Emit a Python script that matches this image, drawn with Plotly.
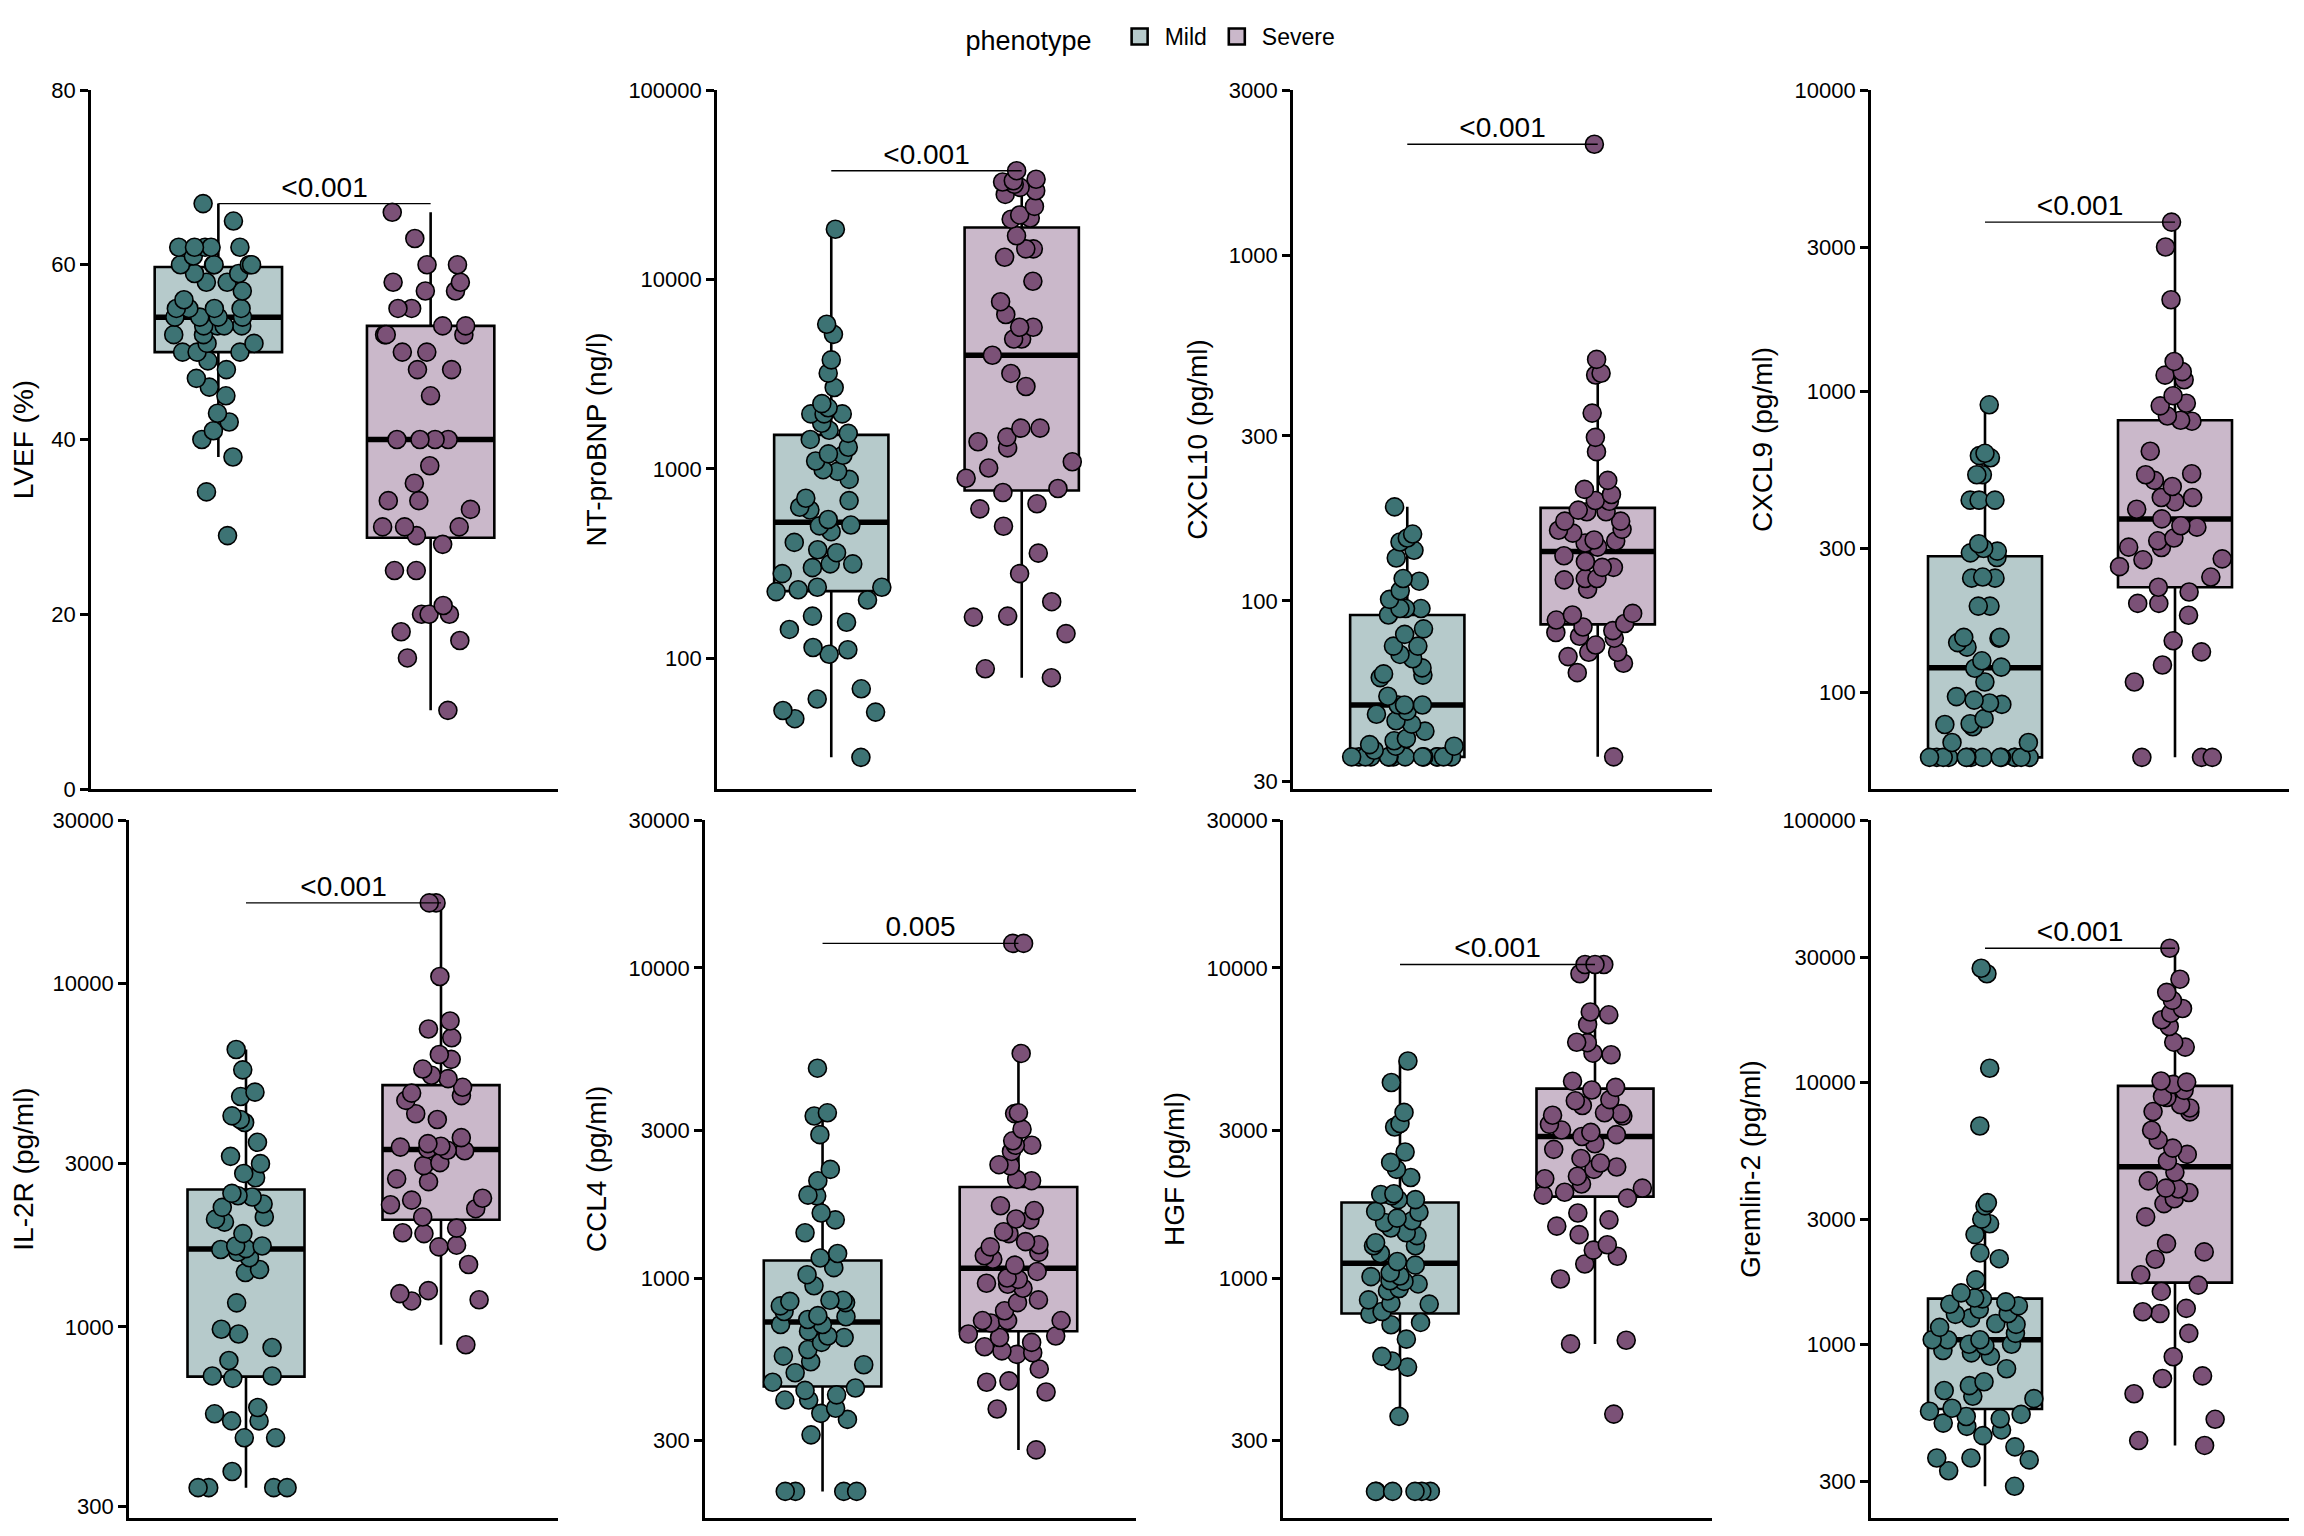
import numpy as np
import plotly.graph_objects as go

# ---------------- data ----------------
groups = ["Mild", "Severe"]
group_pos = [1, 2]

lvef_mild = [67, 65, 62, 62, 62, 62, 60, 60, 60, 60, 59, 59, 58, 57, 55, 55, 55, 55,
             54, 54, 54, 53, 53, 53, 52, 52, 51, 50, 50, 49, 48, 47, 46, 45, 43, 42,
             38, 41, 40, 34, 29, 50, 51, 53, 56, 58, 60, 61, 62, 54]
lvef_severe = [66, 63, 60, 60, 58, 58, 57, 57, 55, 55, 53, 53, 52, 52, 52, 50, 50, 48,
               48, 45, 40, 40, 40, 40, 37, 35, 33, 33, 32, 30, 30, 28, 30, 29, 25, 25,
               20, 20, 20, 21, 18, 17, 15, 9]

ntprobnp_mild = [18400, 5800, 5130, 3760, 3200, 2690, 2210, 2100, 1950, 1950, 1950, 1740,
                 1430, 1540, 1200, 1180, 970, 990, 880, 680, 627, 607, 505, 466, 409, 374,
                 361, 315, 315, 301, 280, 237, 237, 225, 203, 167, 155, 142, 114, 111, 105,
                 69, 61, 53, 52, 48, 30, 230, 500, 540, 700, 1100, 1300, 1600]
ntprobnp_severe = [37500, 32700, 31800, 33800, 33200, 30600, 28100, 29400, 24300, 21100,
                   21900, 20800, 17000, 14500, 14500, 13100, 9780, 7630, 6530, 5590, 5590,
                   4850, 4850, 3980, 3190, 2720, 1640, 1640, 1390, 1470, 1290, 1090, 1010,
                   892, 788, 750, 654, 615, 498, 359, 280, 199, 165, 167, 135, 88, 79]

cxcl10_mild = [187, 156, 152, 148, 140, 133, 116, 114, 107, 101, 95, 95, 95, 91, 83, 80,
               74, 74, 70, 68, 64, 61.5, 61, 60, 53, 50, 50, 50, 48, 47, 45, 44, 42, 40,
               39.4, 38.4, 38, 38, 37, 35.4, 35.4, 35.4, 35.4, 35.4, 35.4, 35.4, 35.4,
               35.4, 35.4, 35.4, 35.4, 35.4, 35.4]
cxcl10_severe = [2090, 499, 455, 450, 349, 297, 270, 223, 210, 203, 194, 181, 183, 181,
                 170, 161, 157, 149, 143, 147, 125, 125, 115, 116, 116, 108, 92, 91, 86,
                 84, 81, 74.5, 71, 71, 69, 66, 62, 35.4, 130, 135, 150, 160, 170, 195,
                 82, 79, 88, 78]

cxcl9_mild = [900, 621, 610, 600, 527, 527, 434, 434, 434, 311, 294, 290, 239, 239, 241,
              193, 193, 152, 152, 151, 146, 141, 127, 121, 120, 108, 96.6, 94, 92, 91,
              81.6, 78.5, 76.7, 78, 68, 68, 280, 300, 60.7, 60.7, 60.7, 60.7, 60.7, 60.7,
              60.7, 60.7, 60.7, 60.7, 60.7, 60.7, 60.7, 60.7]
cxcl9_severe = [3640, 3010, 2010, 1254, 1129, 1160, 1090, 965, 893, 911, 826, 794, 800,
                631, 531, 527, 505, 482, 443, 443, 405, 429, 376, 353, 357, 325, 318, 302,
                303, 275, 261, 277, 241, 223, 215, 197, 197, 180, 148, 136, 123, 108,
                60.7, 60.7, 60.7]

il2r_mild = [6430, 5610, 4830, 4690, 4120, 3940, 4020, 3450, 3140, 2990, 2800, 2720, 2450,
             2410, 2390, 2280, 2230, 2090, 2060, 2020, 1870, 1720, 1690, 1720, 1650, 1680,
             1590, 1440, 1470, 1175, 953, 984, 871, 798, 719, 708, 719, 558, 532, 582,
             475, 475, 379, 340, 340, 340, 340, 532]
il2r_severe = [17200, 17200, 10500, 7790, 7380, 6960, 6220, 6020, 5640, 5410, 5290, 4990,
               4800, 4720, 4570, 4180, 4020, 3560, 3420, 3340, 3300, 3260, 3270, 3360,
               3010, 2950, 2700, 2650, 2370, 2340, 2270, 2210, 2090, 1940, 1870, 1880,
               1730, 1710, 1520, 1275, 1200, 1250, 1190, 887]

ccl4_mild = [4750, 3410, 3330, 2900, 2240, 2060, 1850, 1840, 1620, 1540, 1400, 1200, 1160,
             1080, 1025, 944, 833, 848, 841, 848, 813, 750, 756, 735, 708, 674, 708, 643,
             650, 588, 537, 525, 495, 461, 434, 442, 404, 404, 380, 366, 350, 312, 205,
             205, 205, 205, 420, 560, 620, 780]
ccl4_severe = [12000, 12000, 5300, 3410, 3390, 3020, 2680, 2680, 2770, 2560, 2320, 2300,
               2080, 2060, 1710, 1650, 1550, 1540, 1390, 1410, 1310, 1280, 1260, 1180,
               1150, 1210, 927, 962, 955, 990, 833, 784, 729, 729, 716, 729, 643, 582,
               567, 574, 509, 466, 461, 429, 378, 279, 600, 650, 620, 660, 850, 1000,
               1050, 1100]

hgf_mild = [5010, 4270, 3420, 3070, 3150, 2550, 2360, 2240, 2110, 1870, 1840, 1860, 1790,
            1790, 1640, 1630, 1560, 1530, 1510, 1400, 1370, 1300, 1270, 1270, 1130, 1100,
            1040, 1010, 1015, 957, 975, 980, 925, 908, 824, 829, 764, 719, 707, 635, 559,
            540, 516, 358, 205, 205, 205, 205, 205, 205, 780, 850, 1200, 1450]
hgf_severe = [10260, 10260, 10260, 9580, 7210, 7060, 6570, 5760, 5740, 5310, 5250, 4310,
              4120, 4040, 3600, 3730, 3760, 3390, 3350, 3330, 3410, 3130, 2860, 2710,
              2430, 2350, 2280, 2240, 2130, 2090, 2010, 1810, 1890, 1620, 1540, 1470,
              1380, 1280, 1230, 1175, 1110, 993, 613, 630, 364, 1850, 1950, 2950, 2600,
              2900, 3000]

gremlin2_mild = [27200, 25900, 11300, 6800, 3370, 3470, 3000, 2880, 2620, 2230, 2120, 1760,
                 1570, 1500, 1490, 1420, 1360, 1260, 1310, 1190, 1160, 1040, 1040, 1040,
                 987, 927, 946, 806, 719, 695, 666, 633, 620, 570, 486, 471, 448, 406, 368,
                 368, 362, 329, 287, 500, 520, 540, 555, 530, 900, 1000, 1000, 1100, 1200,
                 1300, 1400, 1450]
gremlin2_severe = [32400, 24700, 22000, 20500, 18300, 19100, 17300, 16300, 14200, 13600,
                   10100, 9300, 8730, 8810, 8200, 7970, 7700, 7720, 6550, 6020, 5600, 5300,
                   4530, 4200, 3940, 3910, 3790, 3590, 3440, 3060, 2250, 2420, 2110, 1840,
                   1680, 1590, 1370, 1310, 1330, 1100, 896, 757, 740, 647, 517, 429, 411,
                   5000, 10000, 9800]

axis_titles = ["LVEF (%)", "NT-proBNP (ng/l)", "CXCL10 (pg/ml)", "CXCL9 (pg/ml)",
               "IL-2R (pg/ml)", "CCL4 (pg/ml)", "HGF (pg/ml)", "Gremlin-2 (pg/ml)"]
p_labels = ["<0.001", "<0.001", "<0.001", "<0.001", "<0.001", "0.005", "<0.001", "<0.001"]

ticks_lvef = [0, 20, 40, 60, 80]
ticks_ntprobnp = [100, 1000, 10000, 100000]
ticks_cxcl10 = [30, 100, 300, 1000, 3000]
ticks_cxcl9 = [100, 300, 1000, 3000, 10000]
ticks_il2r = [300, 1000, 3000, 10000, 30000]
ticks_ccl4 = [300, 1000, 3000, 10000, 30000]
ticks_hgf = [300, 1000, 3000, 10000, 30000]
ticks_gremlin2 = [300, 1000, 3000, 10000, 30000, 100000]

# ---------------- styles / layout constants ----------------
PAGE_OFFSET = 8                     # default body margin of the html page
W, H = 2304 - 2 * PAGE_OFFSET, 1536 - 2 * PAGE_OFFSET
FONT = "Liberation Sans, Arial, Helvetica, sans-serif"
point_colors = ["#3d7374", "#7b5177"]
box_fills = ["#b6cacb", "#cab8ca"]
BOX_W = 0.6

panels = [
    # data mild, data severe, log?, y-range (axis units), ticks
    (lvef_mild, lvef_severe, False, [0, 80], ticks_lvef),
    (ntprobnp_mild, ntprobnp_severe, True, [1.31, 5.0], ticks_ntprobnp),
    (cxcl10_mild, cxcl10_severe, True, [1.456, np.log10(3000)], ticks_cxcl10),
    (cxcl9_mild, cxcl9_severe, True, [1.678, 4.0], ticks_cxcl9),
    (il2r_mild, il2r_severe, True, [2.443, np.log10(30000)], ticks_il2r),
    (ccl4_mild, ccl4_severe, True, [2.226, np.log10(30000)], ticks_ccl4),
    (hgf_mild, hgf_severe, True, [2.226, np.log10(30000)], ticks_hgf),
    (gremlin2_mild, gremlin2_severe, True, [2.337, 5.0], ticks_gremlin2),
]

# screen-pixel boxes of the panels (left, right, top, bottom)
x_px = [(91, 558), (717, 1136), (1293, 1712), (1871, 2289),
        (129, 558), (705, 1136), (1283, 1712), (1871, 2289)]
y_px = [(90, 789)] * 4 + [(820, 1518)] * 4


def fx(px):
    return (px - PAGE_OFFSET) / W


def fy(px):
    return 1 - (px - PAGE_OFFSET) / H


def box_stats(vals, log):
    v = np.log10(np.asarray(vals, float)) if log else np.asarray(vals, float)
    q1, med, q3 = np.percentile(v, [25, 50, 75])
    iqr = q3 - q1
    lo = v[v >= q1 - 1.5 * iqr].min()
    hi = v[v <= q3 + 1.5 * iqr].max()
    back = (lambda a: float(10 ** a)) if log else (lambda a: float(a))
    return [back(q1), back(med), back(q3), back(lo), back(hi)]


fig = go.Figure()
layout = dict(
    width=W, height=H,
    margin=dict(l=0, r=0, t=0, b=0, autoexpand=False),
    paper_bgcolor="white", plot_bgcolor="white",
    font=dict(family=FONT, color="black", size=22),
    boxmode="overlay",
    showlegend=True,
    legend=dict(
        orientation="h", x=fx(1152), xanchor="center", y=fy(38), yanchor="middle",
        title=dict(text="phenotype  ", font=dict(size=27), side="left"),
        font=dict(size=23), bgcolor="rgba(0,0,0,0)", itemwidth=40,
        itemsizing="trace",
    ),
)

# legend keys
for g in range(2):
    fig.add_trace(go.Scatter(
        x=[None], y=[None], mode="markers", name=groups[g], legendgroup=groups[g],
        marker=dict(symbol="square", size=27, color=box_fills[g],
                    line=dict(color="black", width=2.6)),
        showlegend=True, hoverinfo="skip",
    ))

for k, (d_mild, d_sev, is_log, yr, ticks) in enumerate(panels):
    idx = "" if k == 0 else str(k + 1)
    xa, ya = "x" + idx, "y" + idx
    data = [d_mild, d_sev]

    for g in range(2):
        q1, med, q3, lo, hi = box_stats(data[g], is_log)
        pos = group_pos[g]
        # box with whiskers
        fig.add_trace(go.Box(
            x=[pos], q1=[q1], median=[med], q3=[q3], lowerfence=[lo], upperfence=[hi],
            width=BOX_W, whiskerwidth=0, boxpoints=False,
            fillcolor=box_fills[g], line=dict(color="black", width=2.6),
            name=groups[g], legendgroup=groups[g], showlegend=False,
            xaxis=xa, yaxis=ya, hoverinfo="skip",
        ))
        # thick median bar
        fig.add_trace(go.Box(
            x=[pos], q1=[med], median=[med], q3=[med], lowerfence=[med], upperfence=[med],
            width=BOX_W, whiskerwidth=0, boxpoints=False,
            fillcolor="rgba(0,0,0,0)", line=dict(color="black", width=5.5),
            legendgroup=groups[g], showlegend=False,
            xaxis=xa, yaxis=ya, hoverinfo="skip",
        ))
        # jittered points
        fig.add_trace(go.Box(
            x=[pos] * len(data[g]), y=data[g],
            width=BOX_W, boxpoints="all", jitter=1.0, pointpos=0,
            fillcolor="rgba(0,0,0,0)", line=dict(color="rgba(0,0,0,0)", width=0),
            marker=dict(color=point_colors[g], size=18,
                        line=dict(color="black", width=1.6)),
            name=groups[g], legendgroup=groups[g], showlegend=False,
            xaxis=xa, yaxis=ya, hoverinfo="skip",
        ))

    # significance bracket at the panel maximum
    top = float(max(max(d_mild), max(d_sev)))
    fig.add_trace(go.Scatter(
        x=group_pos, y=[top, top], mode="lines",
        line=dict(color="black", width=1.4), showlegend=False,
        xaxis=xa, yaxis=ya, hoverinfo="skip",
    ))
    fig.add_trace(go.Scatter(
        x=[float(np.mean(group_pos))], y=[top], mode="text", text=[p_labels[k]],
        textposition="top center", textfont=dict(size=28, color="black", family=FONT),
        showlegend=False, xaxis=xa, yaxis=ya, hoverinfo="skip", cliponaxis=False,
    ))

    l, r = x_px[k]
    t, b = y_px[k]
    layout["xaxis" + idx] = dict(
        domain=[fx(l), fx(r)], anchor=ya, range=[0.4, 2.6], automargin=False,
        showline=True, linecolor="black", linewidth=2.6,
        showticklabels=False, ticks="", showgrid=False, zeroline=False,
    )
    layout["yaxis" + idx] = dict(
        domain=[fy(b), fy(t)], anchor=xa, automargin=False,
        type="log" if is_log else "linear", range=yr,
        tickvals=ticks, ticktext=[str(v) for v in ticks],
        showline=True, linecolor="black", linewidth=2.6,
        ticks="outside", ticklen=8, tickwidth=2.6, tickcolor="black",
        tickfont=dict(size=22, color="black"),
        showgrid=False, zeroline=False,
        title=dict(text=axis_titles[k], font=dict(size=28, color="black"), standoff=14),
    )

fig.update_layout(**layout)
fig.write_html("out.html")
